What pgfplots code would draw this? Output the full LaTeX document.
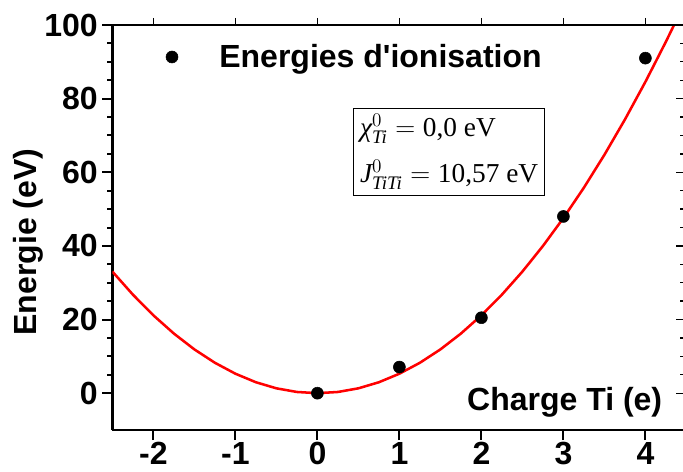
\documentclass[border=0pt]{standalone}
\usepackage{fontspec}
\setmainfont{Liberation Sans}
\newfontfamily\serif{Liberation Serif}
\usepackage{amsmath}
\usepackage{pgfplots}
\pgfplotsset{compat=1.18}

\pgfplotstableread{
q E
-2.50 33.03
-2.25 26.76
-2.00 21.14
-1.75 16.19
-1.50 11.89
-1.25 8.26
-1.00 5.29
-0.75 2.97
-0.50 1.32
-0.25 0.33
0.00 0.00
0.25 0.33
0.50 1.32
0.75 2.97
1.00 5.29
1.25 8.26
1.50 11.89
1.75 16.19
2.00 21.14
2.25 26.76
2.50 33.03
2.75 39.97
3.00 47.57
3.25 55.82
3.50 64.74
3.75 74.32
4.00 84.56
4.25 95.46
4.40 102.32
}\curvetable

\pgfplotstableread{
q E
0 0
1 7.1
2 20.5
3 48.0
4 91.0
}\pointstable

\begin{document}
\begin{tikzpicture}
\pgfplotsset{common/.style={scale only axis, width=430.5pt, height=303.75pt,
  xmin=-2.5, xmax=4.5, ymin=-10, ymax=100}}
\begin{axis}[common,
  axis x line*=bottom, axis y line*=left,
  axis line style={line width=2pt,-},
  tick align=outside,
  xtick={-2,-1,0,1,2,3,4}, ytick={0,20,40,60,80,100},
  minor y tick num=3,
  major tick length=7.5pt, minor tick length=3.75pt,
  tick style={line width=1.5pt, black},
  /pgf/number format/assume math mode=true,
  tick label style={font=\bfseries\fontsize{24}{28}\selectfont},
  xticklabel style={yshift=1.8pt},
  every axis y label/.style={at={(rel axis cs:0,0.464)}, xshift=-63.3pt, rotate=90, anchor=center, font=\bfseries\fontsize{24}{28}\selectfont},
  every axis x label/.style={at={(rel axis cs:0.966,0.069)}, anchor=east, font=\bfseries\fontsize{24}{28}\selectfont},
  ylabel={Energie (eV)},
  xlabel={Charge Ti (e)},
  legend style={at={(rel axis cs:0.0934,0.921)}, anchor=west, draw=none, fill=none,
    inner sep=0pt, outer sep=0pt, nodes={inner sep=0pt}, column sep=31pt,
    font=\bfseries\fontsize{24}{28}\selectfont},
  legend image code/.code={\draw[#1] plot coordinates {(0pt,0pt)};},
]
\coordinate (SW) at (rel axis cs:0,0);
\coordinate (NE) at (rel axis cs:1,1);
\addplot[red, line width=1.9pt, no marks, forget plot] table[x=q, y=E] {\curvetable};
\addplot[only marks, mark=*, mark size=4.5pt, black] table[x=q, y=E] {\pointstable};
\addlegendentry{Energies d\textquotesingle ionisation}
\node[draw, line width=0.8pt, anchor=north west, inner xsep=5pt, inner ysep=4pt, align=left,
  font=\serif\fontsize{20.5}{35}\selectfont] at (rel axis cs:0.419,0.795)
  {$\text{\itshape χ}^{0}_{\text{\itshape Ti}}=\text{0,0 eV}$\\
   $\text{\itshape J}^{0}_{\text{\itshape TiTi}}=\text{10,57 eV}$};
\end{axis}
\begin{axis}[common, axis x line*=top, axis y line=none,
  axis line style={line width=1.1pt,-}, tick align=outside,
  xtick={-2,-1,0,1,2,3,4}, xticklabels={},
  major tick length=5.25pt, tick style={line width=1pt, black}]
\end{axis}
\begin{axis}[common, axis y line*=right, axis x line=none,
  axis line style={line width=1.1pt,-}, tick align=inside,
  ytick={0,20,40,60,80,100}, yticklabels={}, minor y tick num=3,
  major tick length=7.5pt, minor tick length=4.5pt, tick style={line width=1pt, black}]
\end{axis}
\pgfresetboundingbox
\path[use as bounding box] ([xshift=-84.3pt,yshift=-30.75pt]SW) rectangle ([xshift=-2.55pt,yshift=18.75pt]NE);
\end{tikzpicture}
\end{document}
